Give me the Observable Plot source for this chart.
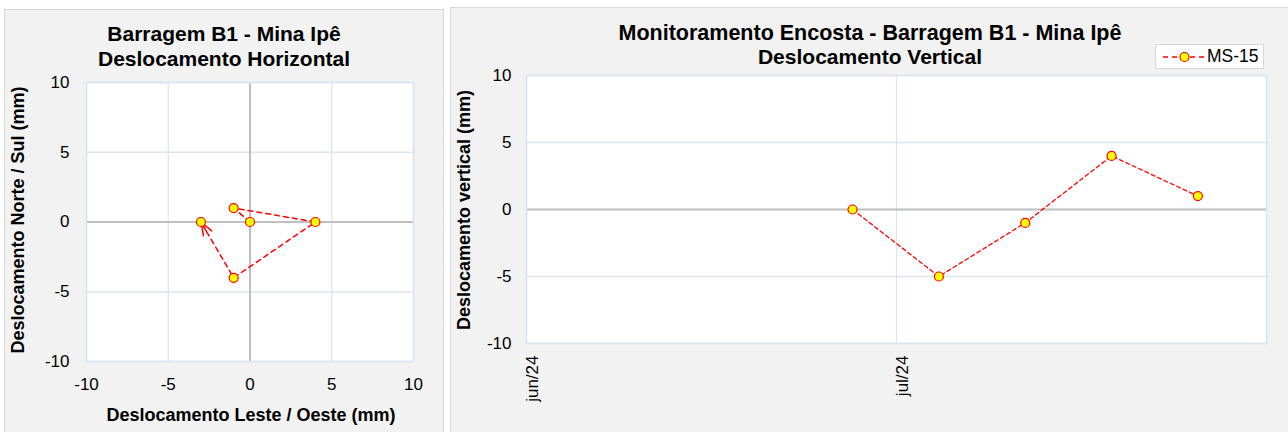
<!DOCTYPE html>
<html><head><meta charset="utf-8">
<script src="https://cdn.jsdelivr.net/npm/d3@7"></script>
<script src="https://cdn.jsdelivr.net/npm/@observablehq/plot@0.6"></script>
<style>
body{margin:0;background:#fff;font-family:"Liberation Sans",Arial,sans-serif;}
#page{position:relative;width:1288px;height:432px;overflow:hidden;background:#fff;}
.panel{position:absolute;background:#f2f2f2;border:1px solid #d9d9d9;box-sizing:border-box;}
.abs{position:absolute;white-space:nowrap;color:#000;}
.title{font-weight:bold;font-size:21px;line-height:25px;transform:translate(-50%,-50%);}
.axlab{font-weight:bold;font-size:18px;line-height:20px;transform:translate(-50%,-50%);}
.rot{transform:translate(-50%,-50%) rotate(-90deg);}
.chart{position:absolute;top:0;}
</style></head><body><div id="page">
<div class="panel" style="left:4px;top:9px;width:440px;height:430px;"></div>
<div class="panel" style="left:450px;top:7px;width:850px;height:430px;"></div>
<div id="leftChart" class="chart" style="left:0px;"></div>
<div id="rightChart" class="chart" style="left:450px;"></div>

<div class="abs title" style="left:224px;top:33px;">Barragem B1 - Mina Ipê</div>
<div class="abs title" style="left:224px;top:58px;">Deslocamento Horizontal</div>
<div class="abs axlab rot" style="left:18px;top:220px;">Deslocamento Norte / Sul (mm)</div>
<div class="abs axlab" style="left:251px;top:415px;">Deslocamento Leste / Oeste (mm)</div>

<div class="abs title" style="left:870px;top:33px;font-size:21.5px;">Monitoramento Encosta - Barragem B1 - Mina Ipê</div>
<div class="abs title" style="left:870px;top:56px;">Deslocamento Vertical</div>
<div class="abs axlab rot" style="left:464px;top:210px;">Deslocamento vertical (mm)</div>

<div class="abs" style="left:1155px;top:44px;width:109px;height:25px;background:#fff;border:1px solid #d9d9d9;box-sizing:border-box;">
  <svg width="50" height="23" style="position:absolute;left:4px;top:0px;">
    <line x1="3" y1="12" x2="45" y2="12" stroke="red" stroke-width="1.5" stroke-dasharray="5,4"/>
    <circle cx="24.5" cy="12" r="4.5" fill="#ffff00" stroke="red" stroke-width="1.2"/>
  </svg>
  <span style="position:absolute;left:51px;top:1px;font-size:17.5px;line-height:21px;">MS-15</span>
</div>
</div>
<script>
// Horizontal displacement (mm), in chronological order
const horizLesteOeste = [0, -1, 4, -1, -3];
const horizNorteSul   = [0, 1, 0, -4, 0];
const axisTicks = [-10, -5, 0, 5, 10];

// Vertical displacement series MS-15
const vertDates  = ["2024-06-27T10:30Z", "2024-07-04T10:30Z", "2024-07-11T10:30Z", "2024-07-18T10:30Z", "2024-07-25T10:30Z"];
const vertValues = [0, -5, -1, 4, 1];
const dateDomain = ["2024-06-01T00:00Z", "2024-07-31T00:00Z"];
const dateTicks  = ["2024-06-01T00:00Z", "2024-07-01T00:00Z"];
const dateTickLabels = ["jun/24", "jul/24"];

const horiz = horizLesteOeste.map((x, i) => ({x, y: horizNorteSul[i]}));
const n = horiz.length;
const lastSeg = [{x1: horiz[n-2].x, y1: horiz[n-2].y, x2: horiz[n-1].x, y2: horiz[n-1].y}];

const RED = "#ff0000", YEL = "#ffff00", GRID = "#dbe5f1", ZERO = "#bfbfbf";
const baseStyle = {background: "transparent", fontFamily: "Liberation Sans, Arial, sans-serif", fontSize: "17px", color: "#000", overflow: "visible"};
const numFmt = d => String(d);

const left = Plot.plot({
  width: 444, height: 432,
  marginLeft: 86, marginRight: 31, marginTop: 82, marginBottom: 71,
  style: baseStyle,
  x: {domain: [-10, 10]},
  y: {domain: [-10, 10]},
  marks: [
    Plot.frame({fill: "white"}),
    Plot.gridX(axisTicks, {stroke: GRID, strokeOpacity: 1, strokeWidth: 1.3}),
    Plot.gridY(axisTicks, {stroke: GRID, strokeOpacity: 1, strokeWidth: 1.3}),
    Plot.ruleX([0], {stroke: ZERO, strokeWidth: 2}),
    Plot.ruleY([0], {stroke: ZERO, strokeWidth: 2}),
    Plot.frame({stroke: GRID, strokeWidth: 1.5}),
    Plot.axisX(axisTicks, {tickSize: 0, tickPadding: 16, label: null, tickFormat: numFmt}),
    Plot.axisY(axisTicks, {tickSize: 0, tickPadding: 17, label: null, tickFormat: numFmt}),
    Plot.line(horiz, {x: "x", y: "y", stroke: RED, strokeWidth: 1.5, strokeDasharray: "5,4"}),
    Plot.arrow(lastSeg, {x1: "x1", y1: "y1", x2: "x2", y2: "y2", stroke: RED, strokeWidth: 1.5, headLength: 14, headAngle: 40, insetStart: 54}),
    Plot.dot(horiz, {x: "x", y: "y", r: 4.5, fill: YEL, stroke: RED, strokeWidth: 1.2})
  ]
});
document.getElementById("leftChart").appendChild(left);

const vert = vertDates.map((d, i) => ({date: new Date(d), v: vertValues[i]}));
const tickDates = dateTicks.map(d => new Date(d));
const labelMap = new Map(tickDates.map((d, i) => [+d, dateTickLabels[i]]));

const right = Plot.plot({
  width: 838, height: 432,
  marginLeft: 76, marginRight: 22, marginTop: 75, marginBottom: 89,
  style: baseStyle,
  x: {type: "utc", domain: dateDomain.map(d => new Date(d))},
  y: {domain: [-10, 10]},
  marks: [
    Plot.frame({fill: "white"}),
    Plot.gridX(tickDates, {stroke: GRID, strokeOpacity: 1, strokeWidth: 1.3}),
    Plot.gridY(axisTicks, {stroke: GRID, strokeOpacity: 1, strokeWidth: 1.3}),
    Plot.ruleY([0], {stroke: ZERO, strokeWidth: 2}),
    Plot.frame({stroke: GRID, strokeWidth: 1.5}),
    Plot.axisY(axisTicks, {tickSize: 0, tickPadding: 15, label: null, tickFormat: numFmt}),
    Plot.axisX(tickDates, {tickSize: 0, tickPadding: 12, tickRotate: -90, dx: 6, label: null, tickFormat: d => labelMap.get(+d)}),
    Plot.line(vert, {x: "date", y: "v", stroke: RED, strokeWidth: 1.3, strokeDasharray: "4,3"}),
    Plot.dot(vert, {x: "date", y: "v", r: 4.5, fill: YEL, stroke: RED, strokeWidth: 1.2})
  ]
});
document.getElementById("rightChart").appendChild(right);
</script>
</body></html>
